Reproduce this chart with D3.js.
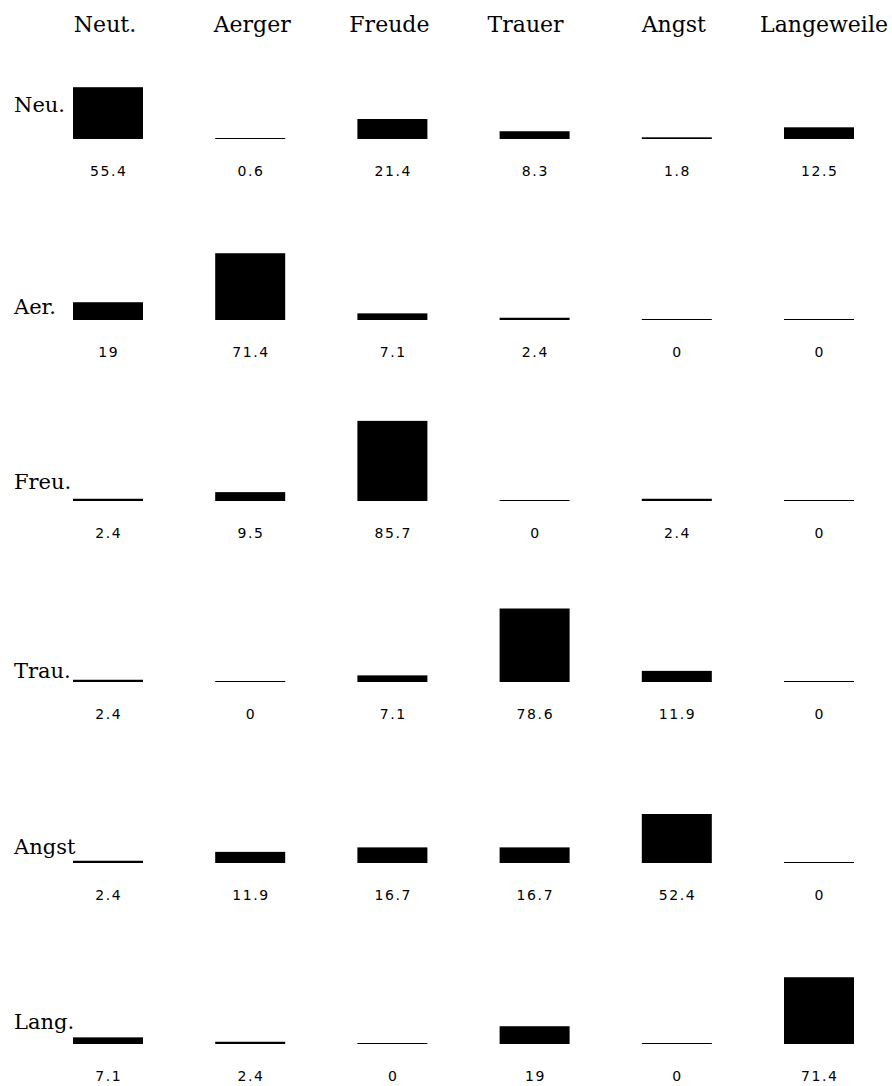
<!DOCTYPE html>
<html>
<head>
<meta charset="utf-8">
<script src="https://cdn.jsdelivr.net/npm/d3@7"></script>
<style>
  html, body { margin: 0; padding: 0; background: #fff; }
  svg { display: block; }
</style>
</head>
<body>
<svg id="chart" width="892" height="1086"></svg>
<script>
// Confusion matrix of emotion recognition (percent per row)
const columnLabels = ["Neut.", "Aerger", "Freude", "Trauer", "Angst", "Langeweile"];
const rowLabels = ["Neu.", "Aer.", "Freu.", "Trau.", "Angst", "Lang."];

const neuValues   = [55.4, 0.6, 21.4, 8.3, 1.8, 12.5];
const aerValues   = [19, 71.4, 7.1, 2.4, 0, 0];
const freuValues  = [2.4, 9.5, 85.7, 0, 2.4, 0];
const trauValues  = [2.4, 0, 7.1, 78.6, 11.9, 0];
const angstValues = [2.4, 11.9, 16.7, 16.7, 52.4, 0];
const langValues  = [7.1, 2.4, 0, 19, 0, 71.4];

const matrix = [neuValues, aerValues, freuValues, trauValues, angstValues, langValues];

// Layout
const barWidth = 70;
const headerBaseline = 32;
const headerDx = [-3, 2, -3, -9, -3, 5];
const rowLabelLift = [27, 6, 12, 4, 9, 15];
const valueDrop = 37;

const svg = d3.select("#chart");

const x = d3.scalePoint().domain(columnLabels).range([108, 819]);
const y = d3.scalePoint().domain(rowLabels).range([139, 1044]);
const h = d3.scaleLinear().domain([0, 100]).range([0, 93.5]);

// Column headers
svg.append("g")
  .selectAll("text")
  .data(columnLabels)
  .join("text")
  .attr("x", (d, i) => x(d) + headerDx[i])
  .attr("y", headerBaseline)
  .attr("text-anchor", "middle")
  .style("font-family", "'DejaVu Serif', serif")
  .style("font-size", "22px")
  .attr("fill", "#000")
  .text(d => d);

// Row labels
svg.append("g")
  .selectAll("text")
  .data(rowLabels)
  .join("text")
  .attr("x", 14)
  .attr("y", (d, i) => y(d) - rowLabelLift[i])
  .style("font-family", "'DejaVu Serif', serif")
  .style("font-size", "21px")
  .attr("fill", "#000")
  .text(d => d);

// Cells
const cells = matrix.flatMap((row, ri) =>
  row.map((v, ci) => ({ row: rowLabels[ri], col: columnLabels[ci], value: v }))
);

const cell = svg.append("g")
  .selectAll("g")
  .data(cells)
  .join("g");

cell.append("rect")
  .attr("x", d => x(d.col) - barWidth / 2)
  .attr("width", barWidth)
  .attr("y", d => y(d.row) - Math.max(h(d.value), 1))
  .attr("height", d => Math.max(h(d.value), 1))
  .attr("fill", "#000");

cell.append("text")
  .attr("x", d => x(d.col) + 0.8)
  .attr("y", d => y(d.row) + valueDrop)
  .attr("text-anchor", "middle")
  .style("font-family", "'DejaVu Sans', sans-serif")
  .style("font-size", "14px")
  .style("letter-spacing", "1.6px")
  .attr("fill", "#000")
  .text(d => String(d.value));
</script>
</body>
</html>
